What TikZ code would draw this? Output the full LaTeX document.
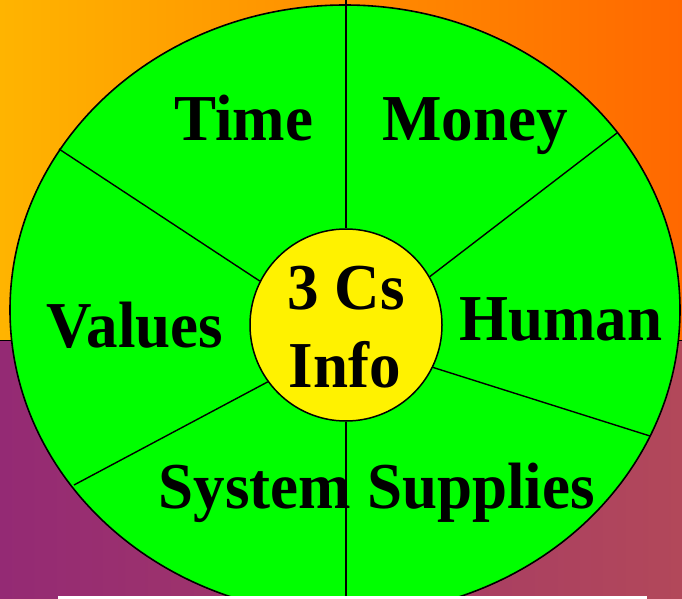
\documentclass[tikz,border=0pt]{standalone}
\usepackage{fontspec}
\setmainfont{Liberation Serif}
\newcommand\wheelfont{\fontsize{63}{78}\selectfont\bfseries}

\definecolor{topleft}{RGB}{255,180,0}
\definecolor{topright}{RGB}{255,104,0}
\definecolor{botleft}{RGB}{148,42,116}
\definecolor{botright}{RGB}{178,72,90}

\tikzset{
  lbl/.style={font=\wheelfont, anchor=base, inner sep=0pt, yscale=1.04},
  spoke/.style={line width=1.4pt}
}

\begin{document}
\begin{tikzpicture}[x=1pt, y=-1pt]
    \useasboundingbox (0,0) rectangle (682,599);
    \clip (0,0) rectangle (682,599);

    \shade[left color=topleft, right color=topright] (0,0) rectangle (682,340);
    \shade[left color=botleft, right color=botright] (0,340) rectangle (682,599);
    \draw[line width=1pt] (0,340) -- (682,340);

    \filldraw[fill=green, line width=1.6pt] (345,310) ellipse [x radius=335, y radius=305];
    \node[circle, draw, fill=yellow, line width=1.5pt, minimum size=192pt, inner sep=0pt] (hub) at (346,325) {};

    \coordinate (topend) at (346,0);
    \coordinate (ulend) at (59,149);
    \coordinate (urend) at (617,133);
    \coordinate (lrend) at (650,436);
    \coordinate (botend) at (346,599);
    \coordinate (llend) at (74,485);

    \draw[line width=2pt] (hub.90) -- (topend);
    \draw[line width=2pt] (hub.270) -- (botend);
    \draw[spoke] (hub.153) -- (ulend);
    \draw[spoke] (hub.30) -- (urend);
    \draw[spoke] (hub.-26) -- (lrend);
    \draw[spoke] (hub.216) -- (llend);

    \node[lbl] (time) at (244,140) {Time};
    \node[lbl] (money) at (475,140) {Money};
    \node[lbl] (human) at (561,340) {Human};
    \node[lbl] (values) at (135,347) {Values};
    \node[lbl] (system) at (255,508) {System};
    \node[lbl] (supplies) at (481,508) {Supplies};
    \node[lbl] (cs) at (346,309) {3 Cs};
    \node[lbl] (info) at (345,387) {Info};

    \fill[white] (58,596) rectangle (647,599);
\end{tikzpicture}
\end{document}
